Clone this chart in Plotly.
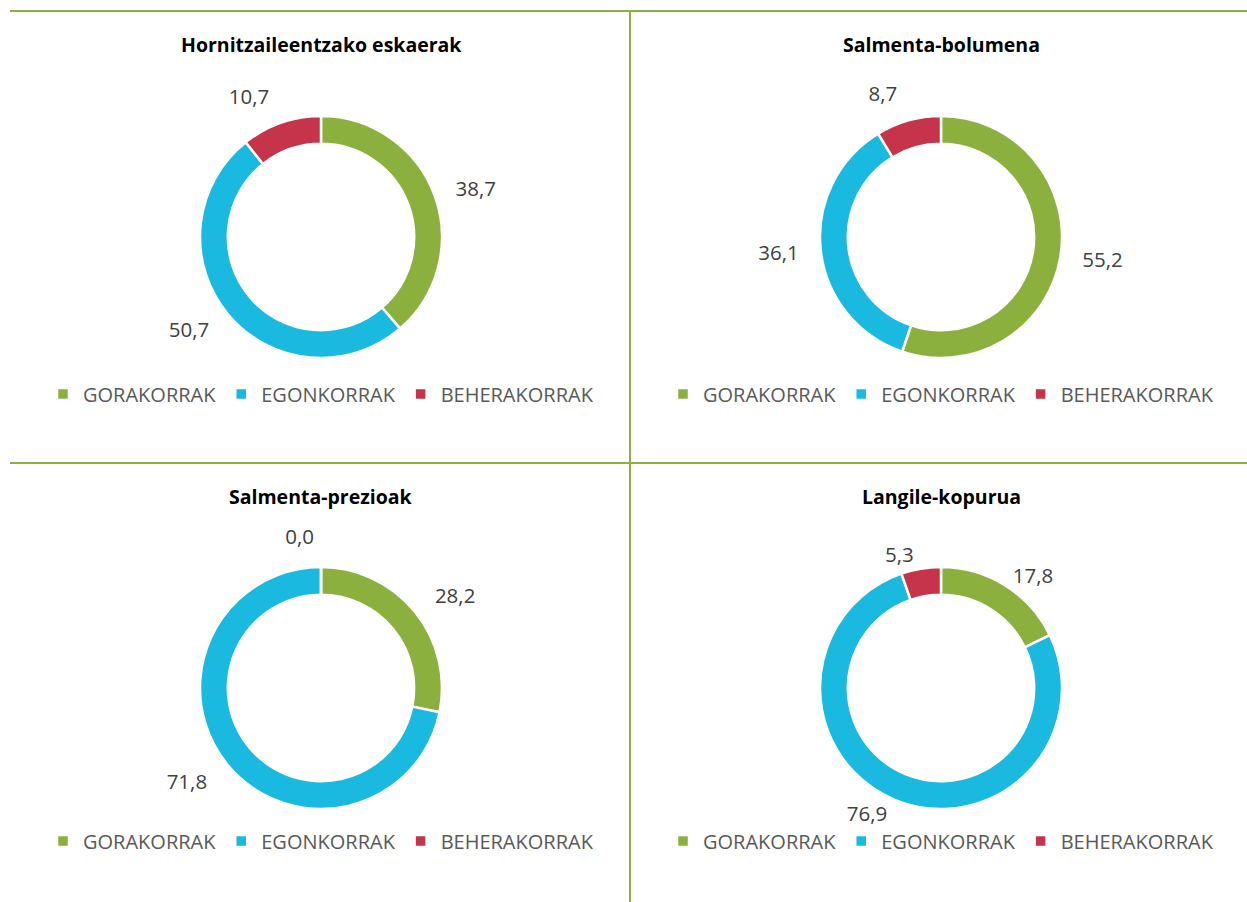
import plotly.graph_objects as go

categories = ["GORAKORRAK", "EGONKORRAK", "BEHERAKORRAK"]
colors = ["#8BB03E", "#1AB9E0", "#C6344B"]
titles = ["Hornitzaileentzako eskaerak", "Salmenta-bolumena", "Salmenta-prezioak", "Langile-kopurua"]
values_1 = [38.7, 50.7, 10.7]
values_2 = [55.2, 36.1, 8.7]
values_3 = [28.2, 71.8, 0.0]
values_4 = [17.8, 76.9, 5.3]
all_values = [values_1, values_2, values_3, values_4]

W, H = 1247, 902
FONT = "Open Sans"
centers = [(321, 237), (941, 237), (321, 688), (941, 688)]
legend_y = [394, 394, 841, 841]
title_y = [44, 44, 496, 496]
R = 121                          # donut outer radius (px)
R_LABEL = [136, 136, 138, 122]   # radius of the invisible ring that carries the value labels


def dom(cx, cy, r):
    return dict(x=[(cx - r) / W, (cx + r) / W], y=[1 - (cy + r) / H, 1 - (cy - r) / H])


fig = go.Figure()
legend_names = ["legend", "legend2", "legend3", "legend4"]
for i, vals in enumerate(all_values):
    cx, cy = centers[i]
    fig.add_trace(go.Pie(
        labels=categories, values=vals, hole=0.77, sort=False,
        direction="clockwise", rotation=0,
        marker=dict(colors=colors, line=dict(color="white", width=2.5)),
        textinfo="none",
        domain=dom(cx, cy, R),
        legend=legend_names[i], legendgroup="g%d" % i, showlegend=True,
        hoverinfo="label+value",
    ))
    fig.add_trace(go.Pie(
        labels=categories, values=vals, hole=0.95, sort=False,
        direction="clockwise", rotation=0,
        marker=dict(colors=["rgba(0,0,0,0)"] * 3, line=dict(width=0)),
        textposition="outside", texttemplate="%{value:.1f}",
        textfont=dict(size=20.5, color="#404040", family=FONT),
        domain=dom(cx, cy, R_LABEL[i]),
        showlegend=False, hoverinfo="skip",
    ))

layout_legends = {}
for i, name in enumerate(legend_names):
    cx, cy = centers[i]
    layout_legends[name] = dict(
        orientation="h", x=cx / W, xanchor="center", y=1 - legend_y[i] / H, yanchor="middle",
        font=dict(size=20, color="#595959", family=FONT), itemclick=False, itemdoubleclick=False,
        bgcolor="rgba(0,0,0,0)", traceorder="normal",
    )

annotations = []
for i, t in enumerate(titles):
    cx, cy = centers[i]
    annotations.append(dict(text="<b>" + t + "</b>", x=cx / W, y=1 - title_y[i] / H,
                            xref="paper", yref="paper", xanchor="center", yanchor="middle",
                            showarrow=False,
                            font=dict(size=19.5, color="#000000", family=FONT)))

line_color = "#8BB03E"
shapes = [
    dict(type="line", xref="paper", yref="paper", x0=10 / W, x1=1, y0=1 - 11 / H, y1=1 - 11 / H,
         line=dict(color=line_color, width=2)),
    dict(type="line", xref="paper", yref="paper", x0=10 / W, x1=1, y0=1 - 463 / H, y1=1 - 463 / H,
         line=dict(color=line_color, width=2)),
    dict(type="line", xref="paper", yref="paper", x0=630 / W, x1=630 / W, y0=0, y1=1 - 11 / H,
         line=dict(color=line_color, width=2)),
]

fig.update_layout(
    width=W, height=H, margin=dict(l=0, r=0, t=0, b=0),
    paper_bgcolor="white", plot_bgcolor="white",
    separators=",.", font=dict(family=FONT),
    annotations=annotations, shapes=shapes,
    **layout_legends,
)

fig.write_html("out.html", config={"displayModeBar": False},
               post_script="document.body.style.margin='0';")
